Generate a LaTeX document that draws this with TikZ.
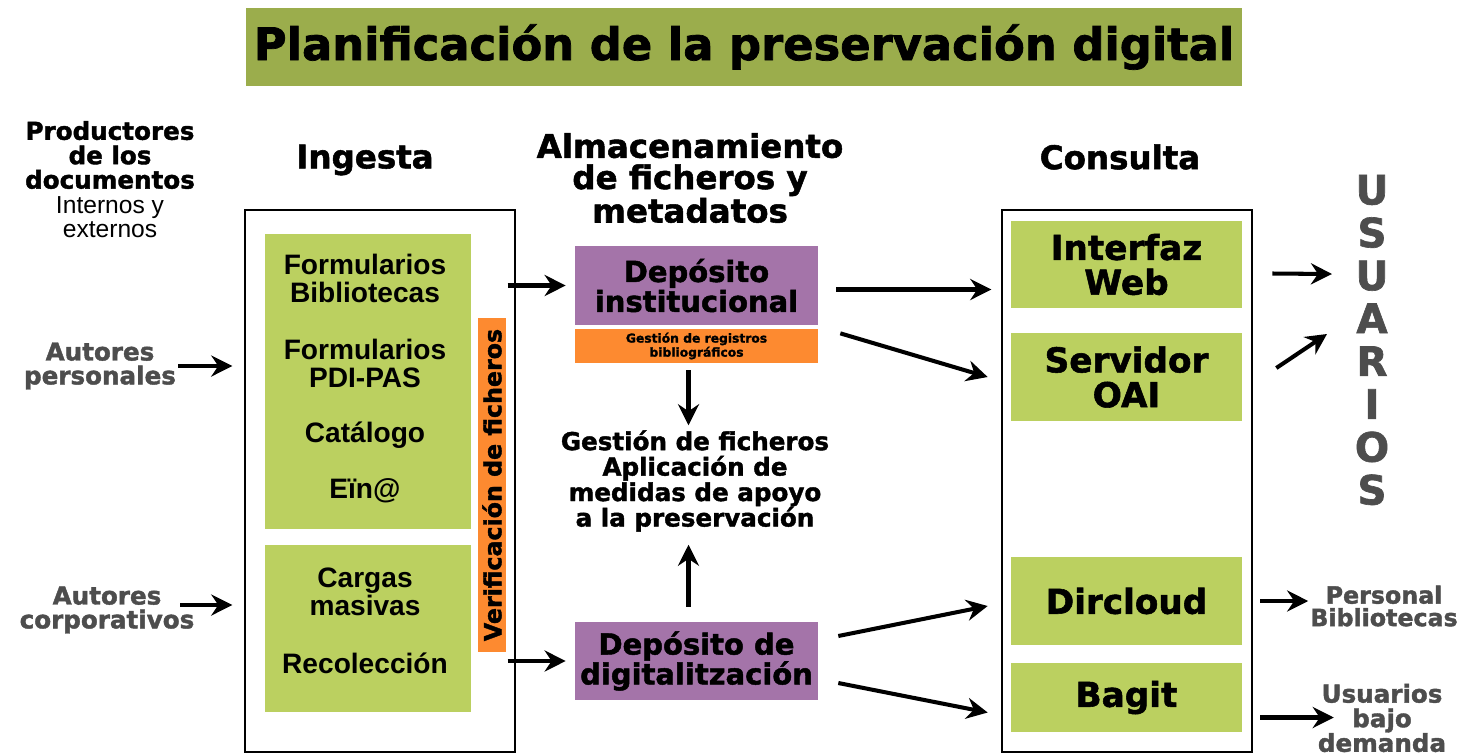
\documentclass[tikz,border=0pt]{standalone}
\usepackage{fontspec}
\setmainfont{Liberation Sans}
\newfontfamily\negra{DejaVu Sans}[BoldFeatures={FakeBold=1.6}]
\usetikzlibrary{arrows.meta,positioning}

\definecolor{verdeTit}{RGB}{155,173,76}
\definecolor{verdeCaja}{RGB}{187,208,96}
\definecolor{morado}{RGB}{164,116,169}
\definecolor{naranja}{RGB}{253,138,48}
\definecolor{gris}{RGB}{77,77,77}

\newcommand{\tam}[2]{\fontsize{#1}{#2}\selectfont}

\begin{document}
\begin{tikzpicture}[x=0.02cm, y=-0.02cm,
		caja/.style={draw, line width=0.8pt, inner sep=0pt, minimum height=10.84cm},
		verdeIng/.style={fill=verdeCaja, inner sep=0pt, minimum width=4.12cm},
		verdeCon/.style={fill=verdeCaja, inner sep=0pt, minimum width=4.62cm, align=center,
			font=\negra\bfseries\tam{19.5pt}{19.8pt}},
		deposito/.style={fill=morado, inner sep=0pt, minimum width=4.86cm, align=center,
			font=\negra\bfseries\tam{16.5pt}{17pt}},
		cabecera/.style={align=center, inner sep=1pt, font=\negra\bfseries\tam{18.5pt}{18.5pt}},
		texIng/.style={align=center, inner sep=1pt, font=\bfseries\tam{16pt}{16pt}},
		autor/.style={align=center, inner sep=1pt, text=gris, font=\negra\bfseries\tam{14pt}{13.6pt}},
		usuario/.style={align=center, inner sep=1pt, text=gris, font=\negra\bfseries\tam{13.5pt}{12.8pt}},
		flecha/.style={-{Stealth[length=12pt,width=12pt,inset=4pt]}, line width=2.3pt}
	]
	\useasboundingbox (0,0) rectangle (1466,755);

	% titulo
	\node[fill=verdeTit, minimum width=19.92cm, minimum height=1.56cm,
		font=\negra\bfseries\tam{25.5pt}{27pt}] (tit) at (744,47) {Planificación de la preservación digital};

	% productores
	\node[align=center, inner sep=1pt, font=\negra\bfseries\tam{14pt}{13.9pt}] (prod) at (110,155)
		{Productores\\de los\\documentos};
	\node[align=center, inner sep=1pt, font=\tam{14pt}{13.9pt}] (prod2) at (110,217) {Internos y\\externos};
	\node[autor] (autP) at (100,366) {Autores\\personales};
	\node[autor] (autC) at (107,610) {Autores\\corporativos};

	% ingesta
	\node[cabecera] (ingT) at (365,160) {Ingesta};
	\node[caja, minimum width=5.4cm] (ing) at (380,481) {};
	\node[verdeIng, minimum height=5.9cm] (ingA) at (368,381.5) {};
	\node[verdeIng, minimum height=3.34cm] (ingB) at (368,628.5) {};
	\node[texIng] (form1) at (365,278) {Formularios\\Bibliotecas};
	\node[texIng] (form2) at (365,363) {Formularios\\PDI-PAS};
	\node[texIng] (cat) at (365,435) {Catálogo};
	\node[texIng] (ein) at (365,491) {Eïn@};
	\node[texIng] (carg) at (365,592) {Cargas\\masivas};
	\node[texIng] (recol) at (365,663) {Recolección};
	\node[fill=naranja, rotate=90, inner sep=0pt, minimum width=6.68cm, minimum height=0.56cm,
		font=\negra\bfseries\tam{13.5pt}{13.5pt}] (verif) at (492,485) {Verificación de ficheros};

	% almacenamiento
	\node[cabecera, font=\negra\bfseries\tam{18.5pt}{17.8pt}] (almT) at (690,178)
		{Almacenamiento\\de ficheros y\\metadatos};
	\node[deposito, minimum height=1.58cm] (depInst) at (696.5,285.5) {Depósito\\institucional};
	\node[fill=naranja, inner sep=0pt, minimum width=4.86cm, minimum height=0.68cm, align=center,
		font=\negra\bfseries\tam{7pt}{8pt}] (gestReg) at (696.5,346) {Gestión de registros\\bibliográficos};
	\node[align=center, inner sep=1pt, font=\negra\bfseries\tam{14pt}{14.5pt}] (fich) at (695,481)
		{Gestión de ficheros\\Aplicación de\\medidas de apoyo\\a la preservación};
	\node[deposito, minimum height=1.56cm] (depDig) at (696.5,661) {Depósito de\\digitalitzación};

	% consulta
	\node[cabecera] (conT) at (1120,157) {Consulta};
	\node[caja, minimum width=5cm] (con) at (1127,481) {};
	\node[verdeCon, minimum height=1.74cm] (web) at (1126.5,264.5) {Interfaz\\Web};
	\node[verdeCon, minimum height=1.76cm] (oai) at (1126.5,377) {Servidor\\OAI};
	\node[verdeCon, minimum height=1.76cm] (dirc) at (1126.5,601) {Dircloud};
	\node[verdeCon, minimum height=1.38cm] (bagit) at (1126.5,697.5) {Bagit};

	% usuarios
	\node[align=center, inner sep=0pt, text=gris, font=\negra\bfseries\tam{23pt}{24.4pt}] (usu) at (1372,340)
		{U\\S\\U\\A\\R\\I\\O\\S};
	\node[usuario] (pers) at (1384,606) {Personal\\Bibliotecas};
	\node[usuario, font=\negra\bfseries\tam{14pt}{14pt}] (dem) at (1382,718) {Usuarios\\bajo\\demanda};
	\coordinate (u1) at (1332,274);
	\coordinate (u2) at (1327,334);

	% flechas
	\draw[flecha, shorten >=0.24cm] (autP.east) -- (autP.east -| ing.west);
	\draw[flecha, shorten >=0.24cm] ([xshift=-0.32cm,yshift=0.1cm]autC.east) -- ([yshift=0.1cm]autC.east -| ing.west);
	\draw[flecha, shorten >=0.18cm] ([xshift=-0.16cm]ing.east |- depInst) -- (depInst.west);
	\draw[flecha, shorten >=0.18cm] ([xshift=-0.16cm]ing.east |- depDig) -- (depDig.west);
	\draw[flecha, shorten <=0.14cm, shorten >=0.06cm] ([xshift=-0.16cm]gestReg.south) -- ([xshift=-0.16cm]gestReg.south |- fich.north);
	\draw[flecha, shorten <=0.3cm, shorten >=0.22cm] ([xshift=-0.16cm]depDig.north) -- ([xshift=-0.16cm]depDig.north |- fich.south);
	\draw[flecha, shorten <=0.36cm, shorten >=0.2cm] ([yshift=-0.08cm]depInst.east) -- ([yshift=-0.08cm]depInst.east -| con.west);
	\draw[flecha] ([xshift=0.44cm,yshift=-0.16cm]depInst.south east) -- ([xshift=-0.46cm]oai.west);
	\draw[flecha] ([xshift=0.4cm,yshift=0.5cm]depDig.east) -- ([xshift=-0.46cm,yshift=-0.1cm]dirc.west);
	\draw[flecha] ([xshift=0.4cm,yshift=-0.44cm]depDig.east) -- ([xshift=-0.46cm,yshift=-0.3cm]bagit.west);
	\draw[flecha] ([xshift=0.6cm,yshift=-0.18cm]web.east) -- (u1);
	\draw[flecha] ([xshift=0.68cm,yshift=0.18cm]oai.east) -- (u2);
	\draw[flecha] ([xshift=0.36cm]dirc.east) -- (dirc.east -| pers.west);
	\draw[flecha] ([xshift=0.36cm,yshift=-0.4cm]bagit.east) -- ([xshift=0.36cm,yshift=-0.4cm]bagit.east -| dem.west);
\end{tikzpicture}
\end{document}
